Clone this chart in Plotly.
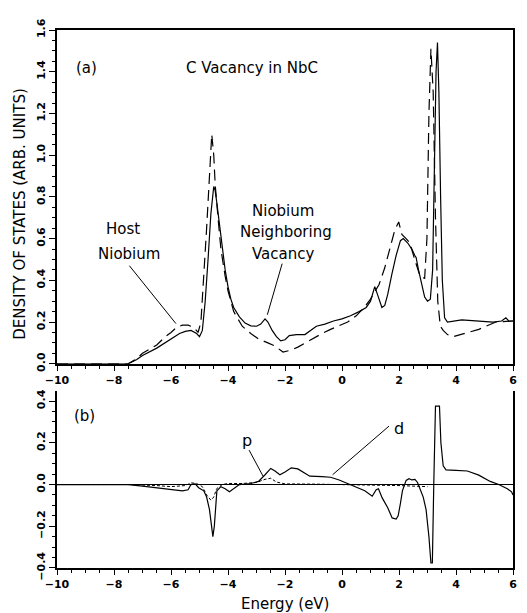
import plotly.graph_objects as go

# ---- Panel (a): density of states ----
energy_vac = [-10, -7.5, -7.2, -7.0, -6.5, -6.0, -5.7, -5.5, -5.3, -5.1, -5.0, -4.9, -4.8, -4.7, -4.6,
              -4.5, -4.45, -4.4, -4.3, -4.2, -4.1, -4.0, -3.9, -3.8, -3.6, -3.4, -3.2, -3.0, -2.85,
              -2.7, -2.6, -2.45, -2.3, -2.15, -2.0, -1.85, -1.6, -1.3, -1.1, -0.9, -0.6, -0.3, 0.0,
              0.3, 0.6, 0.85, 1.0, 1.1, 1.15, 1.25, 1.4, 1.5, 1.6, 1.75, 1.9, 2.05, 2.15, 2.3, 2.45,
              2.55, 2.6, 2.7, 2.8, 2.9, 3.0, 3.1, 3.18, 3.25, 3.3, 3.35, 3.4, 3.46, 3.52, 3.6, 3.7,
              4.2, 4.75, 5.3, 5.6, 5.75, 5.85, 6.0]
dos_vac = [0, 0, 0.02, 0.04, 0.075, 0.12, 0.145, 0.155, 0.16, 0.145, 0.13, 0.16, 0.3, 0.5, 0.72,
           0.85, 0.83, 0.78, 0.66, 0.55, 0.45, 0.37, 0.31, 0.27, 0.225, 0.195, 0.182, 0.18, 0.19,
           0.215, 0.2, 0.16, 0.13, 0.11, 0.115, 0.135, 0.14, 0.14, 0.16, 0.18, 0.19, 0.205, 0.215,
           0.23, 0.25, 0.27, 0.30, 0.35, 0.37, 0.33, 0.27, 0.28, 0.33, 0.43, 0.52, 0.59, 0.6, 0.58, 0.55,
           0.52, 0.51, 0.44, 0.38, 0.32, 0.30, 0.31, 0.45, 0.95, 1.4, 1.54, 1.3, 0.8, 0.4, 0.22, 0.2,
           0.21, 0.205, 0.2, 0.205, 0.22, 0.205, 0.205]

energy_host = [-10, -7.5, -7.2, -7.0, -6.5, -6.2, -6.0, -5.8, -5.6, -5.4, -5.2, -5.05, -4.95, -4.85,
               -4.75, -4.65, -4.57, -4.5, -4.45, -4.35, -4.25, -4.1, -4.0, -3.8, -3.5, -3.2, -2.94,
               -2.6, -2.35, -2.07, -1.8, -1.55, -1.3, -0.96, -0.7, -0.4, 0.0, 0.2, 0.5, 0.78, 1.0,
               1.13, 1.3, 1.5, 1.7, 1.85, 1.99, 2.1, 2.25, 2.38, 2.55, 2.74, 2.9, 2.98, 3.05, 3.12,
               3.2, 3.28, 3.36, 3.45, 3.55, 3.7, 3.9, 4.3, 4.8, 5.4, 6.0]
dos_host = [0, 0, 0.025, 0.05, 0.09, 0.13, 0.15, 0.175, 0.185, 0.185, 0.175, 0.15, 0.2, 0.4,
            0.65, 0.9, 1.1, 1.0, 0.86, 0.7, 0.55, 0.42, 0.35, 0.25, 0.18, 0.145, 0.12,
            0.1, 0.085, 0.056, 0.065, 0.08, 0.1, 0.127, 0.145, 0.165, 0.19, 0.2, 0.23, 0.27, 0.31,
            0.34, 0.38, 0.46, 0.56, 0.64, 0.68, 0.62, 0.6, 0.58, 0.5, 0.42, 0.41, 0.6, 1.2, 1.51,
            1.3, 0.7, 0.3, 0.18, 0.16, 0.14, 0.13, 0.145, 0.165, 0.2, 0.205]

# ---- Panel (b): difference, d and p components ----
energy_d = [-10, -7.5, -7.0, -6.5, -6.0, -5.6, -5.4, -5.3, -5.15, -5.03, -4.85, -4.75, -4.65, -4.58,
            -4.53, -4.48, -4.44, -4.39, -4.25, -4.1, -3.95, -3.8, -3.6, -3.2, -2.93, -2.7, -2.5,
            -2.35, -2.18, -2.0, -1.78, -1.55, -1.35, -1.13, -0.7, -0.4, -0.1, 0.2, 0.5, 0.8, 1.06,
            1.2, 1.28, 1.41, 1.6, 1.76, 1.9, 1.97, 2.05, 2.12, 2.25, 2.35, 2.45, 2.56, 2.65, 2.73,
            2.85, 2.95, 3.05, 3.12, 3.17, 3.22, 3.28, 3.42, 3.47, 3.55, 3.65, 4.0, 4.4, 4.8, 5.2,
            5.5, 5.8, 5.95, 6.0]
diff_d = [0, 0, -0.008, -0.017, -0.025, -0.03, -0.025, 0.0, 0.003, -0.015, -0.03, -0.06, -0.12, -0.2,
          -0.25, -0.2, -0.1, -0.03, -0.01, -0.02, -0.035, -0.02, 0.0, 0.005, 0.015, 0.047, 0.077,
          0.065, 0.047, 0.06, 0.08, 0.075, 0.06, 0.04, 0.038, 0.035, 0.022, 0.005, -0.015, -0.03, -0.056,
          -0.025, -0.02, -0.064, -0.11, -0.16, -0.165, -0.15, -0.09, -0.03, 0.02, 0.028, 0.022, 0.025, 0.01, -0.02,
          -0.06, -0.12, -0.25, -0.376, -0.376, 0.0, 0.376, 0.376, 0.2, 0.09, 0.07, 0.068, 0.065, 0.045, 0.015,
          0.0, -0.02, -0.035, -0.05]

energy_p = [-10, -7.5, -6.5, -6.0, -5.5, -5.3, -5.1, -4.9, -4.75, -4.6, -4.5, -4.4, -4.2, -4.0, -3.5,
            -3.0, -2.7, -2.5, -2.3, -2.0, -1.0, 0.0, 1.0, 2.0, 3.0]
diff_p = [0, 0, -0.005, -0.01, -0.005, 0.008, 0.005, -0.01, -0.05, -0.075, -0.06, -0.02, 0.0, 0.005, 0.005,
          0.01, 0.025, 0.03, 0.012, 0.003, 0.002, 0.0, -0.003, -0.005, -0.01]

x_ticks = [-10, -8, -6, -4, -2, 0, 2, 4, 6]

FONT = "DejaVu Sans"
tickfont = dict(family=FONT, size=11, color="black", weight="bold")
LW = 1.2

fig = go.Figure()
fig.add_trace(go.Scatter(x=energy_host, y=dos_host, mode="lines",
                         line=dict(color="black", width=LW, dash="11px,6px"), xaxis="x", yaxis="y"))
fig.add_trace(go.Scatter(x=energy_vac, y=dos_vac, mode="lines",
                         line=dict(color="black", width=LW), xaxis="x", yaxis="y"))
fig.add_trace(go.Scatter(x=energy_p, y=diff_p, mode="lines",
                         line=dict(color="black", width=1, dash="3px,2px"), xaxis="x2", yaxis="y2"))
fig.add_trace(go.Scatter(x=energy_d, y=diff_d, mode="lines",
                         line=dict(color="black", width=LW), xaxis="x2", yaxis="y2"))

xcommon = dict(range=[-10, 6], tickvals=x_ticks, ticks="outside", ticklen=5, tickwidth=1.2,
               tickcolor="black", showline=True, linecolor="black", linewidth=1.5,
               showgrid=False, zeroline=False, tickfont=tickfont,
               minor=dict(dtick=0.5, ticks="outside", ticklen=3, tickcolor="black", tickwidth=1))
ycommon = dict(dtick=0.2, ticks="outside", ticklen=6, tickwidth=1.2, tickcolor="black",
               showline=True, linecolor="black", linewidth=1.5, showgrid=False,
               tickangle=-90, tickformat=".1f", tickfont=tickfont,
               minor=dict(dtick=0.05, ticks="outside", ticklen=3, tickcolor="black", tickwidth=1))

# page body has an 8px margin: figure is 8px smaller and margins shifted accordingly
fig.update_layout(
    width=519, height=605, autosize=False,
    margin=dict(l=49, r=10, t=12, b=45),
    paper_bgcolor="white", plot_bgcolor="white", showlegend=False,
    xaxis=dict(anchor="y", mirror=True, **xcommon),
    yaxis=dict(domain=[0.3796, 1.0], range=[0, 1.6], anchor="x", mirror=True, zeroline=False, **ycommon),
    xaxis2=dict(anchor="y2", mirror=False, **xcommon),
    yaxis2=dict(domain=[0.0, 0.3285], range=[-0.4, 0.447], anchor="x2", mirror=True,
                zeroline=True, zerolinecolor="black", zerolinewidth=1, tick0=0, **ycommon),
)

def txt(x, y, s, size=15, xref="x", yref="y", **kw):
    fig.add_annotation(x=x, y=y, xref=xref, yref=yref, text=s, showarrow=False,
                       xanchor="center", yanchor="middle",
                       font=dict(family=FONT, size=size, color="black"), **kw)

txt(-8.98, 1.42, "(a)")
txt(-3.17, 1.42, "C Vacancy in NbC", size=15)
txt(-7.7, 0.645, "Host")
txt(-7.46, 0.527, "Niobium")
txt(-2.07, 0.73, "Niobium")
txt(-1.96, 0.63, "Neighboring")
txt(-2.07, 0.527, "Vacancy")
txt(-9.03, 0.33, "(b)", xref="x2", yref="y2")
txt(-3.35, 0.21, "p", size=16, xref="x2", yref="y2")
txt(2.0, 0.27, "d", size=16, xref="x2", yref="y2")

fig.add_annotation(x=-0.0804, y=0.659, xref="paper", yref="paper", text="DENSITY OF STATES (ARB. UNITS)",
                   textangle=-90, showarrow=False, xanchor="center", yanchor="middle",
                   font=dict(family=FONT, size=15, color="black"))
fig.add_annotation(x=0.5, y=-0.066, xref="paper", yref="paper", text="Energy (eV)",
                   showarrow=False, xanchor="center", yanchor="middle",
                   font=dict(family=FONT, size=15, color="black"))

def seg(x0, y0, x1, y1, xref="x", yref="y"):
    fig.add_shape(type="line", x0=x0, y0=y0, x1=x1, y1=y1, xref=xref, yref=yref,
                  line=dict(color="black", width=1))

seg(-7.46, 0.47, -5.83, 0.193)
seg(-2.10, 0.48, -2.62, 0.235)
seg(-3.26, 0.165, -2.77, 0.04, "x2", "y2")
seg(1.65, 0.28, -0.33, 0.047, "x2", "y2")

fig.write_html("out.html")
